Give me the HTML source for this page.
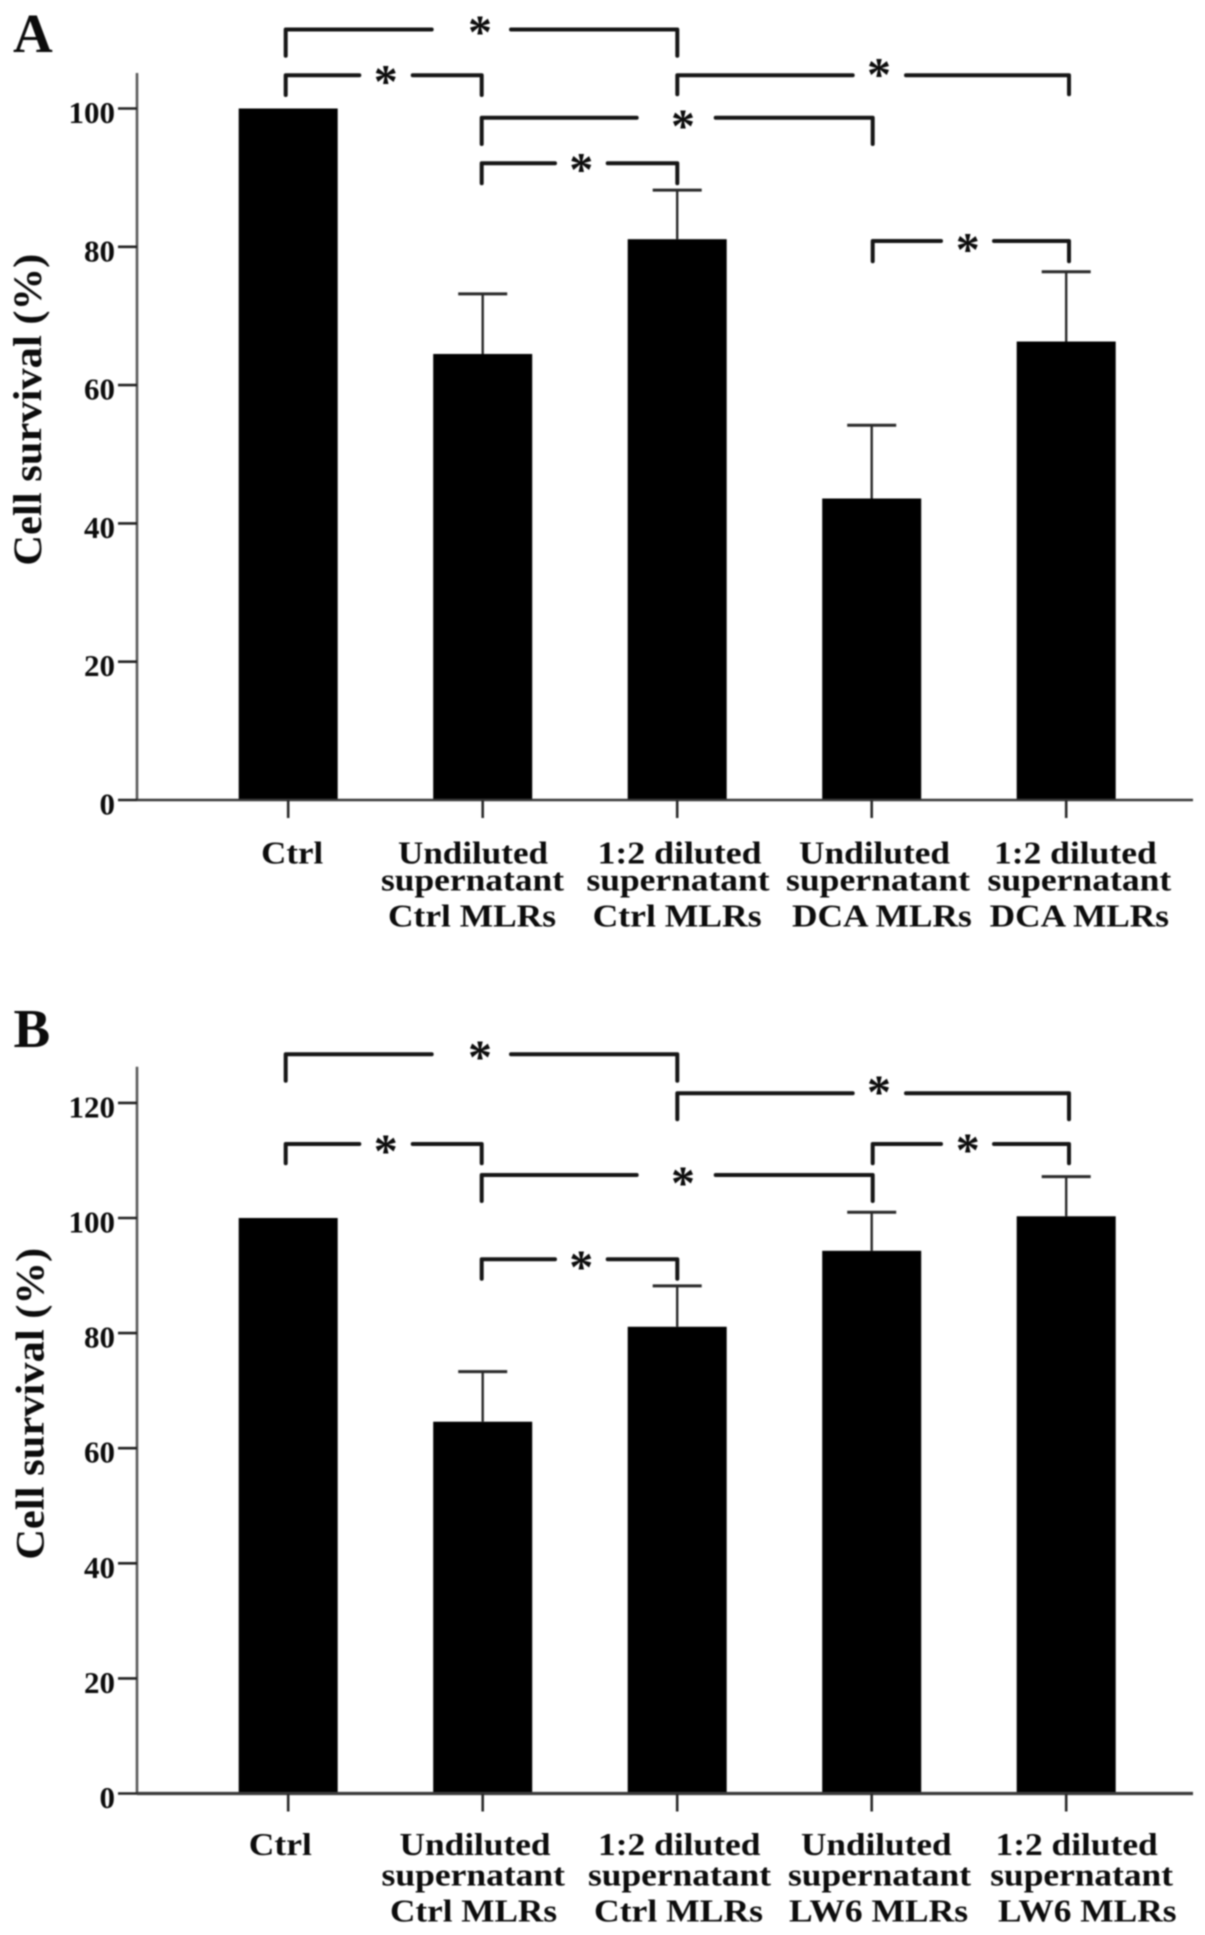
<!DOCTYPE html>
<html lang="en">
<head>
<meta charset="utf-8">
<title>Cell survival bar charts</title>
<style>
  html, body { margin: 0; padding: 0; background: #fff; }
  body { width: 1205px; height: 1935px; overflow: hidden; }
  #figure { display: block; filter: blur(0.7px); }
  text { font-family: "Liberation Serif", "Times New Roman", serif; font-weight: bold; fill: #0c0c0c; }
</style>
</head>
<body>
<svg id="figure" xmlns="http://www.w3.org/2000/svg" width="1205" height="1935" viewBox="0 0 1205 1935">
  <rect x="0" y="0" width="1205" height="1935" fill="#fff"/>
</svg>
<script>
// ---------- chart data ----------
const categoriesA = [
  ["Ctrl"],
  ["Undiluted", "supernatant", "Ctrl MLRs"],
  ["1:2 diluted", "supernatant", "Ctrl MLRs"],
  ["Undiluted", "supernatant", "DCA MLRs"],
  ["1:2 diluted", "supernatant", "DCA MLRs"]
];
const categoriesB = [
  ["Ctrl"],
  ["Undiluted", "supernatant", "Ctrl MLRs"],
  ["1:2 diluted", "supernatant", "Ctrl MLRs"],
  ["Undiluted", "supernatant", "LW6 MLRs"],
  ["1:2 diluted", "supernatant", "LW6 MLRs"]
];
const meansA = [100, 64.5, 81.1, 43.6, 66.3];
const errorTopsA = [100, 73.2, 88.2, 54.2, 76.4];
const meansB = [100, 64.6, 81.1, 94.3, 100.3];
const errorTopsB = [100, 73.3, 88.2, 101, 107.2];
const tickLabelsA = [0, 20, 40, 60, 80, 100];
const tickLabelsB = [0, 20, 40, 60, 80, 100, 120];

// ---------- layout (pixels, not data) ----------
const AXIS_X = 137, AXIS_RIGHT = 1193, BAR_WIDTH = 99, CAP_WIDTH = 49;
const xScale = i => 288.2 + 194.5 * i;
const yScaleA = v => 800 - v * 6.915;
const yScaleB = v => 1793.5 - v * 5.755;
const layoutBracketX = [285.7, 481.7, 677.3, 872.7, 1069];
// from, to, y, legEnd, gapStart, gapEnd, starX, starY
const layoutBracketsA = [
  [0, 2, 29.5, 55.7, 431.7, 511, 480, 25.2],
  [0, 1, 75.3, 95, 359.3, 412.7, 385.7, 74.8],
  [2, 4, 75.3, 94.3, 852.7, 906, 879, 67.8],
  [1, 3, 117.7, 144, 636.7, 715.7, 683, 119.5],
  [1, 2, 163.3, 183.3, 555, 607.7, 581.3, 162.8],
  [3, 4, 241, 261.3, 941, 994, 967.7, 242.8]
];
const layoutBracketsB = [
  [0, 2, 1054.3, 1080.7, 431.7, 511, 480, 1050.2],
  [2, 4, 1093.3, 1119.3, 852.7, 906, 879, 1085.5],
  [0, 1, 1144, 1163.3, 359.3, 412.7, 385.7, 1144.5],
  [3, 4, 1144, 1163.3, 941, 994, 967.7, 1143.5],
  [1, 3, 1175, 1201, 636.7, 715.7, 683, 1176.5],
  [1, 2, 1259.3, 1278.7, 555, 607.7, 581.3, 1260.5]
];
// per category, per line: start x and rendered width
const layoutLabelsA = [
  [[261.2, 62]],
  [[398, 150], [381, 183], [388, 168]],
  [[597.5, 164], [586.5, 183], [592.6, 169]],
  [[799, 151], [786, 184], [792, 179.7]],
  [[994, 162.7], [987.5, 183.7], [989.7, 179.3]]
];
const layoutLabelsB = [
  [[248.8, 63]],
  [[399.5, 151], [381.5, 183.5], [390, 167]],
  [[598, 162.5], [588, 183], [594, 169]],
  [[801, 150.5], [788, 183], [789, 179]],
  [[995.5, 162.2], [990.3, 182.7], [998, 178.5]]
];

const svg = document.getElementById("figure");
const NS = "http://www.w3.org/2000/svg";
function make(tag, attrs, parent) {
  const node = document.createElementNS(NS, tag);
  for (const k in attrs) node.setAttribute(k, attrs[k]);
  parent.appendChild(node);
  return node;
}

function drawPanel(cfg) {
  const g = make("g", {}, svg);
  
  

  const letter = make("text", { x: cfg.letterX, y: cfg.letterY, "font-size": 55 }, g);
  letter.textContent = cfg.id;
  
  

  const title = make("text", {
    x: cfg.titleX, y: cfg.titleBottom, "font-size": 40, textLength: 312, lengthAdjust: "spacingAndGlyphs",
    transform: "rotate(-90 " + cfg.titleX + " " + cfg.titleBottom + ")"
  }, g);
  title.textContent = "Cell survival (%)";
  
  

  // bars
  cfg.means.forEach((v, i) => {
    const top = cfg.y(v);
    const bar = make("rect", { x: xScale(i) - BAR_WIDTH / 2, y: top, width: BAR_WIDTH, height: cfg.y(0) - top, fill: "#000" }, g);
    
    
  });

  // error bars
  cfg.errorTops.forEach((v, i) => {
    if (v <= cfg.means[i]) return;
    const stem = make("line", { x1: xScale(i), x2: xScale(i), y1: cfg.y(v), y2: cfg.y(cfg.means[i]), stroke: "#2a2a2a", "stroke-width": 2.4 }, g);
    
    
    const cap = make("line", { x1: xScale(i) - CAP_WIDTH / 2, x2: xScale(i) + CAP_WIDTH / 2, y1: cfg.y(v), y2: cfg.y(v), stroke: "#2a2a2a", "stroke-width": 3 }, g);
    
    
  });

  // axes
  const yAxis = make("line", { x1: AXIS_X, x2: AXIS_X, y1: cfg.axisTop, y2: cfg.y(0), stroke: "#5a5a5a", "stroke-width": 2.6 }, g);
  
  
  const xAxis = make("line", { x1: AXIS_X, x2: AXIS_RIGHT, y1: cfg.y(0), y2: cfg.y(0), stroke: "#3a3a3a", "stroke-width": cfg.xAxisWidth }, g);
  
  

  // y ticks
  cfg.ticks.forEach(t => {
    const ty = cfg.y(t);
    const tick = make("line", { x1: 118, x2: AXIS_X, y1: ty, y2: ty, stroke: "#222", "stroke-width": 2.6 }, g);
    
    
    const label = make("text", { x: 115, y: ty + 14.5, "font-size": 31, "text-anchor": "end" }, g);
    label.textContent = t;
    
    
  });

  // x ticks and category labels
  cfg.categories.forEach((lines, i) => {
    const tick = make("line", { x1: xScale(i), x2: xScale(i), y1: cfg.y(0), y2: cfg.y(0) + 18, stroke: "#2a2a2a", "stroke-width": 2.6 }, g);
    
    
    lines.forEach((line, j) => {
      const box = cfg.labels[i][j];
      const label = make("text", {
        x: box[0], y: cfg.labelBaselines[j], "font-size": 32,
        textLength: box[1], lengthAdjust: "spacingAndGlyphs"
      }, g);
      label.textContent = line;
      
      
    });
  });

  // significance brackets
  cfg.brackets.forEach((b, k) => {
    const xl = layoutBracketX[b[0]], xr = layoutBracketX[b[1]];
    const d = "M" + xl + " " + b[3] + "V" + b[2] + "H" + b[4] +
              "M" + b[5] + " " + b[2] + "H" + xr + "V" + b[3];
    const path = make("path", { d: d, fill: "none", stroke: "#161616", "stroke-width": 4, "stroke-linecap": "round", "stroke-linejoin": "round" }, g);
    
    
    const star = make("text", { x: b[6], y: b[7] + 22.7, "font-size": 48, "text-anchor": "middle" }, g);
    star.textContent = "*";
    
    
  });
}

drawPanel({
  id: "A", letterX: 13, letterY: 52, titleX: 41, titleBottom: 565.7,
  axisTop: 73, xAxisWidth: 2.6, y: yScaleA, means: meansA, errorTops: errorTopsA,
  ticks: tickLabelsA, categories: categoriesA, labels: layoutLabelsA,
  labelBaselines: [863.3, 890.4, 926.7], brackets: layoutBracketsA
});
drawPanel({
  id: "B", letterX: 13.5, letterY: 1047, titleX: 43.3, titleBottom: 1559.8,
  axisTop: 1066.7, xAxisWidth: 3.2, y: yScaleB, means: meansB, errorTops: errorTopsB,
  ticks: tickLabelsB, categories: categoriesB, labels: layoutLabelsB,
  labelBaselines: [1855, 1885.5, 1921.7], brackets: layoutBracketsB
});
</script>
</body>
</html>
